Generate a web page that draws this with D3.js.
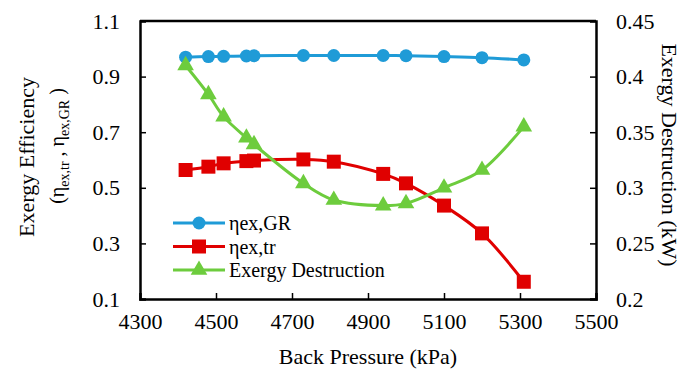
<!DOCTYPE html>
<html><head><meta charset="utf-8">
<script src="https://cdn.jsdelivr.net/npm/d3@7"></script>
</head><body style="margin:0">
<svg id="c" width="686" height="374"></svg>
<script>
const pressure = [4420, 4480, 4520, 4580, 4600, 4730, 4810, 4940, 5000, 5100, 5200, 5310];
const etaGR = [0.970, 0.972, 0.973, 0.974, 0.975, 0.976, 0.976, 0.976, 0.975, 0.972, 0.968, 0.960];
const etaTr = [0.564, 0.576, 0.588, 0.596, 0.598, 0.602, 0.594, 0.550, 0.516, 0.436, 0.336, 0.162];
const exDest = [0.410, 0.384, 0.364, 0.345, 0.339, 0.304, 0.289, 0.284, 0.286, 0.300, 0.316, 0.355];
const xTicks = [4300, 4500, 4700, 4900, 5100, 5300, 5500];
const yLeftTicks = [0.1, 0.3, 0.5, 0.7, 0.9, 1.1];
const yRightTicks = [0.2, 0.25, 0.3, 0.35, 0.4, 0.45];
const seriesNames = ["ηex,GR", "ηex,tr", "Exergy Destruction"];

const FONT = '"Liberation Serif"';
const svg = d3.select("#c");
const L = 140, R = 596, T = 21, B = 299;
const x = d3.scaleLinear().domain([4300, 5500]).range([L, R]);
const yL = d3.scaleLinear().domain([0.1, 1.1]).range([B, T]);
const yR = d3.scaleLinear().domain([0.2, 0.45]).range([B, T]);

const cBlue = "#1f9bd7", cRed = "#e00000", cGreen = "#6dcc3d";

const gx = svg.append("g").attr("transform", `translate(0,${B})`)
  .call(d3.axisBottom(x).tickValues(xTicks).tickSize(-6).tickPadding(14).tickFormat(d3.format("d")));
const gl = svg.append("g").attr("transform", `translate(${L},0)`)
  .call(d3.axisLeft(yL).tickValues(yLeftTicks).tickSize(-6).tickPadding(20).tickFormat(d3.format(".1f")));
const gr = svg.append("g").attr("transform", `translate(${R},0)`)
  .call(d3.axisRight(yR).tickValues(yRightTicks).tickSize(-6).tickPadding(20).tickFormat(d => String(+d.toFixed(2))));
[gx, gl, gr].forEach(g => {
  g.attr("font-family", null).attr("font-size", null);
  g.selectAll("path.domain").attr("stroke", "#000").attr("stroke-width", 2.5);
  g.selectAll(".tick line").attr("stroke", "#000").attr("stroke-width", 1.5);
  g.selectAll(".tick text").style("font-family", FONT).style("font-size", "22px").attr("fill", "#000");
});
gx.selectAll(".tick line").filter((d,i)=> i===0 || i===xTicks.length-1).remove();
gl.selectAll(".tick line").filter((d,i)=> i===0 || i===yLeftTicks.length-1).remove();
gr.selectAll(".tick line").filter((d,i)=> i===0 || i===yRightTicks.length-1).remove();
svg.append("line").attr("x1", L).attr("x2", R).attr("y1", T).attr("y2", T).attr("stroke", "#000").attr("stroke-width", 2.5);

const curve = d3.curveCatmullRom.alpha(0.5);
const mk = (ys, yScale) => d3.line().x((d,i)=>x(pressure[i])).y(d=>yScale(d)).curve(curve)(ys);
svg.append("path").attr("d", mk(etaGR, yL)).attr("fill","none").attr("stroke",cBlue).attr("stroke-width",3);
svg.append("path").attr("d", mk(etaTr, yL)).attr("fill","none").attr("stroke",cRed).attr("stroke-width",3);
svg.append("path").attr("d", mk(exDest, yR)).attr("fill","none").attr("stroke",cGreen).attr("stroke-width",3);

const circ = d3.symbol().type(d3.symbolCircle).size(Math.PI*6.5*6.5);
const sq = d3.symbol().type(d3.symbolSquare).size(14*14);
const tri = d3.symbol().type(d3.symbolTriangle).size(120);

svg.append("g").selectAll("path").data(etaGR).join("path")
  .attr("d", circ).attr("transform",(d,i)=>`translate(${x(pressure[i])},${yL(d)})`).attr("fill",cBlue);
svg.append("g").selectAll("path").data(etaTr).join("path")
  .attr("d", sq).attr("transform",(d,i)=>`translate(${x(pressure[i])},${yL(d)})`).attr("fill",cRed);
svg.append("g").selectAll("path").data(exDest).join("path")
  .attr("d", tri).attr("transform",(d,i)=>`translate(${x(pressure[i])},${yR(d)})`).attr("fill",cGreen);

const legY = [223, 246.5, 270];
const legCol = [cBlue, cRed, cGreen];
const legSym = [circ, sq, tri];
seriesNames.forEach((n, i) => {
  const g = svg.append("g");
  g.append("line").attr("x1",173).attr("x2",225).attr("y1",legY[i]).attr("y2",legY[i]).attr("stroke",legCol[i]).attr("stroke-width",3);
  g.append("path").attr("d", legSym[i]).attr("transform",`translate(199,${legY[i]})`).attr("fill",legCol[i]);
  g.append("text").attr("x",229).attr("y",legY[i]+7).style("font-family",FONT).style("font-size","20px").text(n);
});

svg.append("text").attr("x", (L+R)/2).attr("y", 364).attr("text-anchor","middle").style("font-family",FONT).style("font-size","22px").text("Back Pressure (kPa)");
svg.append("text").attr("transform","translate(34,157) rotate(-90)").attr("text-anchor","middle").style("font-family",FONT).style("font-size","22px").text("Exergy Efficiency");
const t2 = svg.append("text").attr("transform","translate(64,146) rotate(-90)").attr("text-anchor","middle").style("font-family",FONT).style("font-size","20px");
t2.append("tspan").text("(η");
t2.append("tspan").attr("dy",5).style("font-size","14px").text("ex,tr");
t2.append("tspan").attr("dy",-5).text(" , η");
t2.append("tspan").attr("dy",5).style("font-size","14px").text("ex,GR");
t2.append("tspan").attr("dy",-5).text(" )");
svg.append("text").attr("transform","translate(662,155) rotate(90)").attr("text-anchor","middle").style("font-family",FONT).style("font-size","22px").text("Exergy Destruction (kW)");
</script>
</body></html>
